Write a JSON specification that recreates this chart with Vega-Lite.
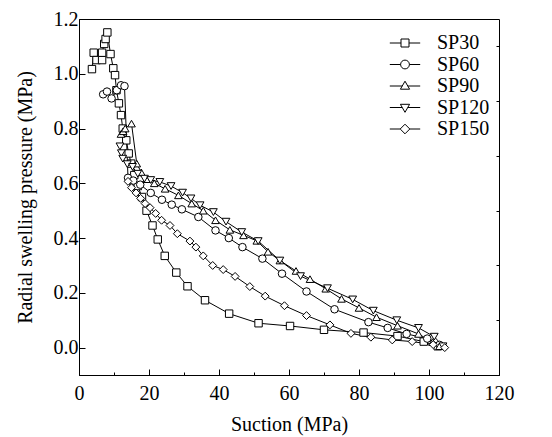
{
  "$schema": "https://vega.github.io/schema/vega-lite/v6.json",
  "width": 420,
  "height": 356,
  "autosize": "none",
  "padding": {"left": 79, "top": 19, "right": 53, "bottom": 62},
  "background": "white",
  "config": {
    "font": "Liberation Serif",
    "view": {"stroke": "black", "strokeWidth": 1},
    "axis": {"labelFont": "Liberation Serif", "titleFont": "Liberation Serif", "labelFontSize": 20, "titleFontSize": 20, "labelColor": "black", "titleColor": "black", "titleFontWeight": "normal", "grid": false, "domainColor": "black", "tickColor": "black", "labelFlush": false},
    "legend": {"labelFont": "Liberation Serif", "labelFontSize": 20, "labelColor": "black"}
  },
  "datasets": {
    "d": [
      {"series": "SP30", "o": 1, "s": 3.7, "p": 1.017},
      {"series": "SP30", "o": 2, "s": 4.2, "p": 1.077},
      {"series": "SP30", "o": 3, "s": 5.0, "p": 1.05},
      {"series": "SP30", "o": 4, "s": 6.6, "p": 1.05},
      {"series": "SP30", "o": 5, "s": 6.6, "p": 1.077},
      {"series": "SP30", "o": 6, "s": 7.2, "p": 1.109},
      {"series": "SP30", "o": 7, "s": 7.6, "p": 1.127},
      {"series": "SP30", "o": 8, "s": 8.1, "p": 1.151},
      {"series": "SP30", "o": 9, "s": 9.0, "p": 1.072},
      {"series": "SP30", "o": 10, "s": 9.8, "p": 1.02},
      {"series": "SP30", "o": 11, "s": 10.3, "p": 0.995},
      {"series": "SP30", "o": 12, "s": 10.7, "p": 0.94},
      {"series": "SP30", "o": 13, "s": 11.4, "p": 0.892},
      {"series": "SP30", "o": 14, "s": 12.0, "p": 0.849},
      {"series": "SP30", "o": 15, "s": 12.5, "p": 0.8},
      {"series": "SP30", "o": 16, "s": 13.5, "p": 0.757},
      {"series": "SP30", "o": 17, "s": 14.2, "p": 0.709},
      {"series": "SP30", "o": 18, "s": 14.9, "p": 0.672},
      {"series": "SP30", "o": 19, "s": 15.8, "p": 0.63},
      {"series": "SP30", "o": 20, "s": 16.8, "p": 0.59},
      {"series": "SP30", "o": 21, "s": 18.0, "p": 0.55},
      {"series": "SP30", "o": 22, "s": 19.3, "p": 0.5},
      {"series": "SP30", "o": 23, "s": 21.0, "p": 0.446},
      {"series": "SP30", "o": 24, "s": 22.5, "p": 0.395},
      {"series": "SP30", "o": 25, "s": 24.5, "p": 0.335},
      {"series": "SP30", "o": 26, "s": 27.8, "p": 0.274},
      {"series": "SP30", "o": 27, "s": 31.0, "p": 0.224},
      {"series": "SP30", "o": 28, "s": 36.0, "p": 0.173},
      {"series": "SP30", "o": 29, "s": 42.9, "p": 0.124},
      {"series": "SP30", "o": 30, "s": 51.3, "p": 0.089},
      {"series": "SP30", "o": 31, "s": 60.3, "p": 0.079},
      {"series": "SP30", "o": 32, "s": 70.0, "p": 0.065},
      {"series": "SP30", "o": 33, "s": 81.3, "p": 0.055},
      {"series": "SP30", "o": 34, "s": 91.0, "p": 0.042},
      {"series": "SP30", "o": 35, "s": 98.5, "p": 0.022},
      {"series": "SP30", "o": 36, "s": 102.5, "p": 0.005},

      {"series": "SP60", "o": 1, "s": 6.9, "p": 0.925},
      {"series": "SP60", "o": 2, "s": 8.0, "p": 0.935},
      {"series": "SP60", "o": 3, "s": 9.3, "p": 0.91},
      {"series": "SP60", "o": 4, "s": 10.8, "p": 0.94},
      {"series": "SP60", "o": 5, "s": 12.0, "p": 0.958},
      {"series": "SP60", "o": 6, "s": 13.0, "p": 0.955},
      {"series": "SP60", "o": 7, "s": 14.0, "p": 0.62},
      {"series": "SP60", "o": 8, "s": 15.5, "p": 0.61},
      {"series": "SP60", "o": 9, "s": 17.5, "p": 0.595},
      {"series": "SP60", "o": 10, "s": 20.5, "p": 0.565},
      {"series": "SP60", "o": 11, "s": 23.7, "p": 0.54},
      {"series": "SP60", "o": 12, "s": 26.5, "p": 0.522},
      {"series": "SP60", "o": 13, "s": 29.4, "p": 0.505},
      {"series": "SP60", "o": 14, "s": 34.1, "p": 0.477},
      {"series": "SP60", "o": 15, "s": 39.0, "p": 0.428},
      {"series": "SP60", "o": 16, "s": 42.8, "p": 0.4},
      {"series": "SP60", "o": 17, "s": 46.7, "p": 0.367},
      {"series": "SP60", "o": 18, "s": 52.4, "p": 0.325},
      {"series": "SP60", "o": 19, "s": 58.0, "p": 0.27},
      {"series": "SP60", "o": 20, "s": 65.0, "p": 0.205},
      {"series": "SP60", "o": 21, "s": 73.0, "p": 0.14},
      {"series": "SP60", "o": 22, "s": 82.7, "p": 0.093},
      {"series": "SP60", "o": 23, "s": 88.2, "p": 0.072},
      {"series": "SP60", "o": 24, "s": 93.6, "p": 0.05},
      {"series": "SP60", "o": 25, "s": 99.5, "p": 0.033},
      {"series": "SP60", "o": 26, "s": 103.0, "p": 0.01},

      {"series": "SP90", "o": 1, "s": 12.0, "p": 0.78},
      {"series": "SP90", "o": 2, "s": 12.6, "p": 0.79},
      {"series": "SP90", "o": 3, "s": 13.2, "p": 0.8},
      {"series": "SP90", "o": 4, "s": 15.0, "p": 0.818},
      {"series": "SP90", "o": 5, "s": 16.5, "p": 0.672},
      {"series": "SP90", "o": 6, "s": 17.8, "p": 0.64},
      {"series": "SP90", "o": 7, "s": 19.3, "p": 0.615},
      {"series": "SP90", "o": 8, "s": 21.5, "p": 0.6},
      {"series": "SP90", "o": 9, "s": 24.6, "p": 0.58},
      {"series": "SP90", "o": 10, "s": 28.4, "p": 0.556},
      {"series": "SP90", "o": 11, "s": 32.2, "p": 0.526},
      {"series": "SP90", "o": 12, "s": 35.5, "p": 0.5},
      {"series": "SP90", "o": 13, "s": 39.0, "p": 0.465},
      {"series": "SP90", "o": 14, "s": 43.1, "p": 0.43},
      {"series": "SP90", "o": 15, "s": 47.0, "p": 0.41},
      {"series": "SP90", "o": 16, "s": 50.8, "p": 0.39},
      {"series": "SP90", "o": 17, "s": 54.0, "p": 0.35},
      {"series": "SP90", "o": 18, "s": 57.4, "p": 0.318},
      {"series": "SP90", "o": 19, "s": 62.0, "p": 0.28},
      {"series": "SP90", "o": 20, "s": 66.0, "p": 0.25},
      {"series": "SP90", "o": 21, "s": 70.5, "p": 0.215},
      {"series": "SP90", "o": 22, "s": 75.0, "p": 0.178},
      {"series": "SP90", "o": 23, "s": 80.0, "p": 0.145},
      {"series": "SP90", "o": 24, "s": 85.0, "p": 0.111},
      {"series": "SP90", "o": 25, "s": 91.0, "p": 0.08},
      {"series": "SP90", "o": 26, "s": 97.0, "p": 0.05},
      {"series": "SP90", "o": 27, "s": 101.0, "p": 0.02},
      {"series": "SP90", "o": 28, "s": 103.0, "p": 0.005},

      {"series": "SP120", "o": 1, "s": 11.7, "p": 0.735},
      {"series": "SP120", "o": 2, "s": 12.1, "p": 0.71},
      {"series": "SP120", "o": 3, "s": 12.5, "p": 0.69},
      {"series": "SP120", "o": 4, "s": 13.8, "p": 0.67},
      {"series": "SP120", "o": 5, "s": 15.3, "p": 0.66},
      {"series": "SP120", "o": 6, "s": 16.8, "p": 0.635},
      {"series": "SP120", "o": 7, "s": 18.7, "p": 0.617},
      {"series": "SP120", "o": 8, "s": 20.5, "p": 0.612},
      {"series": "SP120", "o": 9, "s": 23.1, "p": 0.605},
      {"series": "SP120", "o": 10, "s": 26.3, "p": 0.59},
      {"series": "SP120", "o": 11, "s": 29.6, "p": 0.566},
      {"series": "SP120", "o": 12, "s": 32.0, "p": 0.545},
      {"series": "SP120", "o": 13, "s": 34.6, "p": 0.52},
      {"series": "SP120", "o": 14, "s": 38.4, "p": 0.495},
      {"series": "SP120", "o": 15, "s": 42.0, "p": 0.46},
      {"series": "SP120", "o": 16, "s": 46.5, "p": 0.422},
      {"series": "SP120", "o": 17, "s": 51.2, "p": 0.389},
      {"series": "SP120", "o": 18, "s": 57.4, "p": 0.318},
      {"series": "SP120", "o": 19, "s": 63.3, "p": 0.261},
      {"series": "SP120", "o": 20, "s": 71.0, "p": 0.217},
      {"series": "SP120", "o": 21, "s": 78.2, "p": 0.176},
      {"series": "SP120", "o": 22, "s": 84.1, "p": 0.135},
      {"series": "SP120", "o": 23, "s": 90.8, "p": 0.1},
      {"series": "SP120", "o": 24, "s": 97.0, "p": 0.072},
      {"series": "SP120", "o": 25, "s": 101.5, "p": 0.04},
      {"series": "SP120", "o": 26, "s": 104.0, "p": 0.005},

      {"series": "SP150", "o": 1, "s": 14.0, "p": 0.607},
      {"series": "SP150", "o": 2, "s": 15.0, "p": 0.584},
      {"series": "SP150", "o": 3, "s": 16.3, "p": 0.565},
      {"series": "SP150", "o": 4, "s": 17.6, "p": 0.545},
      {"series": "SP150", "o": 5, "s": 18.9, "p": 0.526},
      {"series": "SP150", "o": 6, "s": 20.3, "p": 0.511},
      {"series": "SP150", "o": 7, "s": 21.9, "p": 0.49},
      {"series": "SP150", "o": 8, "s": 23.6, "p": 0.465},
      {"series": "SP150", "o": 9, "s": 26.0, "p": 0.446},
      {"series": "SP150", "o": 10, "s": 28.1, "p": 0.416},
      {"series": "SP150", "o": 11, "s": 31.7, "p": 0.389},
      {"series": "SP150", "o": 12, "s": 33.4, "p": 0.367},
      {"series": "SP150", "o": 13, "s": 35.5, "p": 0.335},
      {"series": "SP150", "o": 14, "s": 38.2, "p": 0.3},
      {"series": "SP150", "o": 15, "s": 41.2, "p": 0.285},
      {"series": "SP150", "o": 16, "s": 44.6, "p": 0.26},
      {"series": "SP150", "o": 17, "s": 48.8, "p": 0.223},
      {"series": "SP150", "o": 18, "s": 53.2, "p": 0.188},
      {"series": "SP150", "o": 19, "s": 58.7, "p": 0.153},
      {"series": "SP150", "o": 20, "s": 65.0, "p": 0.117},
      {"series": "SP150", "o": 21, "s": 71.7, "p": 0.083},
      {"series": "SP150", "o": 22, "s": 77.7, "p": 0.052},
      {"series": "SP150", "o": 23, "s": 83.4, "p": 0.038},
      {"series": "SP150", "o": 24, "s": 89.5, "p": 0.028},
      {"series": "SP150", "o": 25, "s": 95.2, "p": 0.022},
      {"series": "SP150", "o": 26, "s": 101.2, "p": 0.011},
      {"series": "SP150", "o": 27, "s": 104.5, "p": 0.0}
    ]
  },
  "data": {"name": "d"},
  "layer": [
    {
      "mark": {"type": "line", "color": "black", "strokeWidth": 1},
      "encoding": {
        "x": {"field": "s", "type": "quantitative", "scale": {"domain": [0, 120], "nice": false}, "axis": {"orient": "bottom", "values": [0, 20, 40, 60, 80, 100, 120], "tickSize": -6, "labelPadding": 14, "title": "Suction (MPa)", "titlePadding": 11}},
        "y": {"field": "p", "type": "quantitative", "scale": {"domain": [-0.1, 1.2], "nice": false, "zero": false}, "axis": {"values": [0, 0.2, 0.4, 0.6, 0.8, 1.0, 1.2], "format": ".1f", "tickSize": -6, "labelPadding": 7, "title": "Radial swelling pressure (MPa)", "titlePadding": 18}},
        "detail": {"field": "series"},
        "order": {"field": "o"}
      }
    },
    {
      "mark": {"type": "point", "filled": true, "fill": "white", "stroke": "black", "strokeWidth": 1, "opacity": 1},
      "encoding": {
        "x": {"field": "s", "type": "quantitative", "axis": {"orient": "bottom", "values": [10, 30, 50, 70, 90, 110], "tickSize": -3, "labels": false, "domain": false, "title": null}},
        "y": {"field": "p", "type": "quantitative", "axis": {"values": [-0.1, 0.1, 0.3, 0.5, 0.7, 0.9, 1.1], "tickSize": -3, "labels": false, "domain": false, "title": null}},
        "shape": {"field": "series", "type": "nominal", "scale": {"domain": ["SP30", "SP60", "SP90", "SP120", "SP150"], "range": ["square", "circle", "triangle-up", "triangle-down", "diamond"]}, "legend": null},
        "size": {"field": "series", "type": "nominal", "scale": {"domain": ["SP30", "SP60", "SP90", "SP120", "SP150"], "range": [55, 62, 72, 72, 85]}, "legend": null}
      }
    },
    {
      "transform": [{"filter": "datum.s < -1000"}],
      "mark": {"type": "point", "filled": false, "color": "black", "strokeWidth": 1, "size": 64, "opacity": 1},
      "encoding": {
        "x": {"field": "s", "type": "quantitative", "axis": null},
        "y": {"field": "p", "type": "quantitative", "axis": null},
        "shape": {
          "field": "series", "type": "nominal",
          "scale": {"domain": ["SP30", "SP60", "SP90", "SP120", "SP150"], "range": [
            "M-3.8,0H-1M1,0H3.8M-1,-1H1V1H-1Z",
            "M-3.8,0H-1.1M1.1,0H3.8M-1.1,0A1.1,1.1 0 1,0 1.1,0A1.1,1.1 0 1,0 -1.1,0Z",
            "M-3.8,0H-0.7M0.7,0H3.8M0,-1.2L1.15,0.8H-1.15Z",
            "M-3.8,0H-0.7M0.7,0H3.8M0,1.2L1.15,-0.8H-1.15Z",
            "M-3.8,0H-1.2M1.2,0H3.8M0,-1.2L1.2,0L0,1.2L-1.2,0Z"
          ]},
          "legend": {
            "title": null, "orient": "none", "legendX": 316, "legendY": 14, "labelOffset": 22, "rowPadding": 1.5,
            "symbolStrokeColor": "black", "symbolFillColor": "white", "symbolStrokeWidth": 1, "symbolSize": 64, "symbolOpacity": 1,
            "encode": {"symbols": {"update": {"fill": {"value": "white"}, "stroke": {"value": "black"}, "strokeWidth": {"value": 1}, "opacity": {"value": 1}}}}
          }
        }
      }
    }
  ],
  "resolve": {"scale": {"shape": "independent", "size": "independent"}, "axis": {"x": "independent", "y": "independent"}}
}
